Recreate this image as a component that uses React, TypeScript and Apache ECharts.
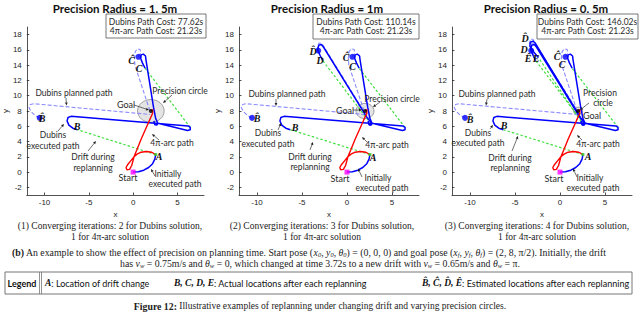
import React, { useEffect, useRef } from "react";
import * as echarts from "echarts";

// ---------- data ----------
const xTicks = [-10, -5, 0, 5];
const yTicks = [-2, 0, 2, 4, 6, 8, 10, 12, 14, 16, 18];
const panelTitles = ["Precision Radius = 1. 5m", "Precision Radius = 1m", "Precision Radius = 0. 5m"];
const precisionRadii = [1.5, 1, 0.5];
const dubinsCosts = ["77.62s", "110.14s", "146.02s"];
const arcCosts = ["21.23s", "21.23s", "21.23s"];
const dubinsIterations = [2, 3, 4];

const startPose = [[0, 0]];
const goalPose = [[2, 8]];
const driftChange = [[2.55, 2.3]];

const initialPath = [[0, 0], [0.6, 0.05], [1.2, 0.25], [1.75, 0.6], [2.2, 1.1], [2.45, 1.7], [2.55, 2.3]];
const arcPath = [[2.55, 2.3], [2.1, 2.6], [1.5, 2.7], [0.9, 2.6], [0.45, 2.35], [0.1, 2.0], [-0.25, 1.5], [-0.6, 1.0], [-0.8, 0.6], [-0.7, 0.3], [-0.4, 0.35], [-0.15, 0.9], [0.1, 2.0], [0.45, 3.0], [0.9, 4.3], [1.4, 5.6], [1.85, 6.8], [2.2, 7.7], [2.2, 8.2], [2.0, 8.0]];

const driftAB = [[2.55, 2.3], [-6.3, 5.55]];
const planB = [[-10.55, 7.1], [-11.05, 7.4], [-11.5, 7.9], [-11.75, 8.45], [-11.6, 8.85], [-11.2, 8.95], [1.9, 7.55]];
const execB = [[-6.3, 5.55], [-6.8, 5.75], [-7.25, 6.15], [-7.45, 6.7], [-7.35, 7.15], [-7.0, 7.3], [6.2, 6.05], [6.45, 5.85], [6.45, 5.55], [6.15, 5.45], [2.8, 6.4]];

const driftBC = [[6.45, 5.85], [1.35, 13.6]];
const planC = [[0.6, 15.1], [0.85, 15.55], [0.8, 16.05], [0.5, 16.15], [0.25, 15.8], [0.15, 15.0], [0.2, 14.0], [1.9, 8.0]];
const execC = [[1.35, 13.6], [1.05, 14.3], [0.85, 14.9], [0.9, 15.35], [1.15, 15.45], [1.4, 15.2], [1.45, 14.7], [2.3, 8.5], [2.55, 7.0], [2.75, 6.5], [2.7, 6.15], [2.45, 6.2], [2.35, 6.7]];

const driftCD = [[2.35, 6.8], [-2.7, 14.6]];
const planD = [[-3.2, 15.9], [-3.3, 16.5], [-3.1, 16.9], [-2.8, 16.85], [-2.6, 16.5], [1.9, 7.9]];
const execD = [[-2.7, 14.6], [-3.0, 15.3], [-3.25, 16.0], [-3.15, 16.6], [-2.85, 16.7], [-2.6, 16.35], [2.2, 7.2], [2.6, 6.6], [2.75, 6.3], [2.55, 6.15], [2.35, 6.5]];

const driftDE = [[2.35, 6.6], [-2.4, 15.0]];
const planE = [[-2.9, 15.3], [-3.4, 16.6], [-3.3, 17.4], [-3.0, 17.4], [-2.85, 17.0], [1.95, 8.0]];
const execE = [[-2.4, 15.0], [-2.9, 15.7], [-3.35, 16.5], [-3.3, 17.0], [-3.0, 17.15], [-2.75, 16.9], [2.3, 7.1], [2.65, 6.6], [2.7, 6.3], [2.5, 6.2], [2.35, 6.6]];

const estB = [-10.55, 7.1];
const estC = [0.6, 15.1];
const estD = [-3.2, 15.9];

const panelPlans = [[planB, planC], [planB, planC, planD], [planB, planC, planD, planE]];
const panelDrifts = [[driftAB, driftBC], [driftAB, driftBC, driftCD], [driftAB, driftBC, driftCD, driftDE]];
const panelExecs = [[execB, execC], [execB, execC, execD], [execB, execC, execD, execE]];
const panelEstimates = [[estB, estC], [estB, estC, estD], [estB, estC, estD]];

// ---------- layout ----------
const gridLefts = [24, 239, 452];
const gridTop = 27;
const gridW = 180;
const gridH = 168;

const TXT = "#2b2b2b";

function txt(text: string, x: number, y: number, o: any = {}) {
  return {
    type: "text",
    x,
    y,
    silent: true,
    z: 100,
    style: {
      text,
      fill: o.fill || TXT,
      fontSize: o.size || 8.5,
      fontFamily: o.family || "Lato",
      fontWeight: o.weight || "normal",
      fontStyle: o.fstyle || "normal",
      align: o.align || "center",
      textAlign: o.align || "center",
      verticalAlign: "middle",
      textVerticalAlign: "middle",
      rich: o.rich,
    },
  };
}

function letter(text: string, x: number, y: number) {
  return txt(text, x, y, { family: "Liberation Serif", weight: "bold", fstyle: "italic", size: 10, fill: "#111" });
}

function arrow(x1: number, y1: number, x2: number, y2: number) {
  const dx = x2 - x1, dy = y2 - y1;
  const len = Math.hypot(dx, dy);
  const ux = dx / len, uy = dy / len;
  const hl = 3, hw = 1.4;
  const bx = x2 - ux * hl, by = y2 - uy * hl;
  return [
    { type: "line", silent: true, z: 100, shape: { x1, y1, x2: bx, y2: by }, style: { stroke: "#333", lineWidth: 0.7 } },
    { type: "polygon", silent: true, z: 100, shape: { points: [[x2, y2], [bx - uy * hw, by + ux * hw], [bx + uy * hw, by - ux * hw]] }, style: { fill: "#222" } },
  ];
}

const richCap = {
  i: { fontStyle: "italic", fontFamily: "Liberation Serif", fontSize: 9.8, fill: "#222" },
  s: { fontStyle: "italic", fontFamily: "Liberation Serif", fontSize: 6.5, fill: "#222", verticalAlign: "bottom", padding: [4, 0, 0, 0] },
  b: { fontWeight: "bold", fontFamily: "Liberation Serif", fontSize: 9.8, fill: "#222" },
};
const richLegend = {
  l: { fontWeight: "bold", fontStyle: "italic", fontFamily: "Liberation Serif", fontSize: 9.5, fill: "#111" },
};

export default function App() {
  const ref = useRef<HTMLDivElement>(null);
  useEffect(() => {
    if (!ref.current) return;
    const chart = echarts.init(ref.current, null, { renderer: "svg" });

    const grids = gridLefts.map((l) => ({ left: l, top: gridTop, width: gridW, height: gridH }));
    const axisColor = "#262626";
    const xAxes = gridLefts.map((_, i) => ({
      type: "value",
      gridIndex: i,
      min: -12,
      max: 8,
      name: "x",
      nameLocation: "middle",
      nameGap: 13,
      nameTextStyle: { fontSize: 8, color: axisColor, fontFamily: "Liberation Sans" },
      axisLine: { show: true, onZero: false, lineStyle: { color: axisColor, width: 0.8 } },
      axisTick: { show: true, inside: true, length: 2.5, customValues: xTicks, lineStyle: { color: axisColor, width: 0.8 } },
      axisLabel: { customValues: xTicks, fontSize: 8, color: axisColor, margin: 3, fontFamily: "Liberation Sans" },
      splitLine: { show: false },
    }));
    const yAxes = gridLefts.map((_, i) => ({
      type: "value",
      gridIndex: i,
      min: -3,
      max: 19,
      name: "y",
      nameLocation: "middle",
      nameRotate: 90,
      nameGap: 15,
      nameTextStyle: { fontSize: 8, color: axisColor, fontFamily: "Liberation Sans" },
      axisLine: { show: true, onZero: false, lineStyle: { color: axisColor, width: 0.8 } },
      axisTick: { show: true, inside: true, length: 2.5, customValues: yTicks, lineStyle: { color: axisColor, width: 0.8 } },
      axisLabel: { customValues: yTicks, fontSize: 8, color: axisColor, margin: 5, fontFamily: "Liberation Sans" },
      splitLine: { show: false },
    }));

    const series: any[] = [];
    const lineS = (i: number, data: number[][], color: string, width: number, type: any, z: number) => ({
      type: "line",
      xAxisIndex: i,
      yAxisIndex: i,
      data,
      showSymbol: false,
      symbol: "none",
      silent: true,
      z,
      lineStyle: { color, width, type },
    });

    gridLefts.forEach((_, i) => {
      series.push({
        type: "custom",
        xAxisIndex: i,
        yAxisIndex: i,
        silent: true,
        z: 1,
        data: [[goalPose[0][0], goalPose[0][1], precisionRadii[i]]],
        encode: { x: 0, y: 1 },
        renderItem: (params: any, api: any) => {
          const c = api.coord([api.value(0), api.value(1)]);
          const r = api.value(2);
          const rx = api.size([r, 0])[0];
          const ry = api.size([0, r])[1];
          return {
            type: "ellipse",
            shape: { cx: c[0], cy: c[1], rx, ry },
            style: { fill: "#e4e4e4", stroke: "#8a8a8a", lineWidth: 0.8 },
          };
        },
      });
      panelPlans[i].forEach((p) => series.push(lineS(i, p, "#8a8aff", 1.1, [4, 2], 2)));
      panelDrifts[i].forEach((p) => series.push(lineS(i, p, "#3ee03e", 1.2, [2.5, 2], 3)));
      panelExecs[i].forEach((p) => series.push(lineS(i, p, "#0000ff", 1.5, "solid", 4)));
      series.push(lineS(i, initialPath, "#0000ff", 1.5, "solid", 4));
      series.push(lineS(i, arcPath, "#ff0000", 1.4, "solid", 5));
      series.push({ type: "scatter", xAxisIndex: i, yAxisIndex: i, data: panelEstimates[i], symbol: "circle", symbolSize: 6, itemStyle: { color: "#0000ff" }, silent: true, z: 6 });
      series.push({ type: "scatter", xAxisIndex: i, yAxisIndex: i, data: startPose, symbol: "rect", symbolSize: 5, itemStyle: { color: "#ff00ff" }, silent: true, z: 6 });
      series.push({ type: "scatter", xAxisIndex: i, yAxisIndex: i, data: goalPose, symbol: "circle", symbolSize: 4, itemStyle: { color: "#000" }, silent: true, z: 7 });
      series.push({ type: "scatter", xAxisIndex: i, yAxisIndex: i, data: driftChange, symbol: "rect", symbolSize: 3, itemStyle: { color: "#2ecc2e" }, silent: true, z: 6 });
    });

    const g: any[] = [];
    // titles
    const titleX = [115, 327, 546];
    panelTitles.forEach((t, i) => g.push(txt(t, titleX[i], 8, { size: 11.5, weight: "bold", fill: "#111" })));
    // cost boxes
    const boxes = [[106, 14, 100, 24], [313, 14, 106, 25], [537, 14, 101, 25]];
    boxes.forEach((b, i) => {
      g.push({ type: "rect", silent: true, z: 90, shape: { x: b[0], y: b[1], width: b[2], height: b[3] }, style: { fill: "#fff", stroke: "#555", lineWidth: 0.8 } });
      const cx = b[0] + b[2] / 2;
      g.push(txt("Dubins Path Cost: " + dubinsCosts[i], cx, b[1] + 8, { size: 8.5 }));
      g.push(txt("4\u03c0-arc Path Cost: " + arcCosts[i], cx, b[1] + 17, { size: 8.5 }));
    });

    // panel 1 annotations
    g.push(txt("Dubins planned path", 74, 93));
    g.push(...arrow(66, 98, 66.5, 105.5));
    g.push(txt("Dubins", 53, 135), txt("executed path", 53, 146));
    g.push(...arrow(58, 131, 64, 124));
    g.push(txt("Drift during", 93, 157), txt("replanning", 93, 168));
    g.push(...arrow(88, 151, 96, 141));
    g.push(txt("Goal", 126, 104, { size: 9 }));
    g.push(...arrow(134, 105, 149, 110));
    g.push(txt("Precision circle", 180, 91));
    g.push(...arrow(172, 95, 163, 103));
    g.push(txt("4\u03c0-arc path", 172, 143));
    g.push(...arrow(159, 140, 152, 134));
    g.push(txt("Start", 128, 177, { size: 9 }));
    g.push(txt("Initially", 168, 174), txt("executed path", 175, 184));
    g.push(...arrow(155, 176, 151, 169));
    g.push(letter("B\u0302", 42, 118), letter("B", 77, 126), letter("A", 159, 156), letter("C", 139, 68), letter("C\u0302", 131.5, 60.5));

    // panel 2 annotations
    g.push(txt("Dubins planned path", 287, 94));
    g.push(...arrow(276, 99, 276, 106));
    g.push(txt("Dubins", 268, 133), txt("executed path", 268, 144));
    g.push(...arrow(278, 130, 281, 123));
    g.push(txt("Drift during", 310, 157), txt("replanning", 310, 167));
    g.push(...arrow(310, 150, 313, 142));
    g.push(txt("Goal", 345, 110, { size: 9 }));
    g.push(...arrow(353, 110, 362, 110));
    g.push(txt("Precision circle", 392, 99));
    g.push(...arrow(380, 102, 373, 107));
    g.push(txt("4\u03c0-arc path", 387, 145));
    g.push(...arrow(367, 142, 362, 137));
    g.push(txt("Start", 340, 178, { size: 9 }));
    g.push(txt("Initially", 378, 178), txt("executed path", 382, 188));
    g.push(...arrow(362, 177, 358, 168.5));
    g.push(letter("B\u0302", 257, 118), letter("B", 295, 127), letter("A", 373, 157), letter("C", 352.5, 66), letter("C\u0302", 346, 57), letter("D", 320, 60), letter("D\u0302", 313, 51.5));

    // panel 3 annotations
    g.push(txt("Dubins planned path", 497, 94));
    g.push(...arrow(487, 99, 486, 105.5));
    g.push(txt("Dubins", 478, 133), txt("executed path", 478, 143));
    g.push(...arrow(490, 129, 493, 125));
    g.push(txt("Drift during", 510, 158), txt("replanning", 510, 168));
    g.push(...arrow(512, 151, 518, 136));
    g.push(txt("Goal", 592, 115, { size: 9 }));
    g.push(txt("Precision", 600, 93), txt("circle", 603, 103));
    g.push(...arrow(589, 103, 580, 110));
    g.push(txt("4\u03c0-arc path", 598, 144));
    g.push(...arrow(582, 140, 577, 135));
    g.push(txt("Start", 554, 178, { size: 9 }));
    g.push(txt("Initially", 590, 178), txt("executed path", 593, 188));
    g.push(...arrow(577, 177, 573, 168.5));
    g.push(letter("B\u0302", 470, 119), letter("B", 504, 125), letter("A", 588, 156), letter("C", 562, 64), letter("C\u0302", 557, 56),
      letter("D\u0302", 525, 38.5), letter("D", 524, 49.5), letter("E\u0302", 528, 58), letter("E", 536, 58));

    // sub captions
    const capX = [110, 322, 537];
    dubinsIterations.forEach((n, i) => {
      g.push(txt("(" + (i + 1) + ") Converging iterations: " + n + " for Dubins solution,", capX[i], 226, { family: "Liberation Serif", size: 9.5, fill: "#222" }));
      g.push(txt("1 for 4\u03c0-arc solution", capX[i], 237, { family: "Liberation Serif", size: 9.5, fill: "#222" }));
    });

    // (b) caption
    g.push(txt(
      "{b|(b)} An example to show the effect of precision on planning time. Start pose ({i|x}{s|0}, {i|y}{s|0}, {i|\u03b8}{s|0}) = (0, 0, 0) and goal pose ({i|x}{s|f}, {i|y}{s|f}, {i|\u03b8}{s|f}) = (2, 8, \u03c0/2). Initially, the drift",
      12, 252, { family: "Liberation Serif", size: 9.8, fill: "#222", align: "left", rich: richCap }
    ));
    g.push(txt(
      "has {i|v}{s|w} = 0.75m/s and {i|\u03b8}{s|w} = 0, which changed at time 3.72s to a new drift with {i|v}{s|w} = 0.65m/s and {i|\u03b8}{s|w} = \u03c0.",
      320, 263, { family: "Liberation Serif", size: 9.8, fill: "#222", rich: richCap }
    ));

    // legend box
    g.push({ type: "rect", silent: true, z: 90, shape: { x: 5, y: 272, width: 627, height: 22 }, style: { fill: "#fff", stroke: "#777", lineWidth: 1 } });
    g.push({ type: "line", silent: true, z: 91, shape: { x1: 39.5, y1: 272, x2: 39.5, y2: 294 }, style: { stroke: "#777", lineWidth: 0.8 } });
    g.push({ type: "line", silent: true, z: 91, shape: { x1: 41.5, y1: 272, x2: 41.5, y2: 294 }, style: { stroke: "#777", lineWidth: 0.8 } });
    g.push(txt("Legend", 22, 283, { weight: "bold", size: 9, fill: "#111" }));
    g.push(txt("{l|A}: Location of drift change", 45, 283, { align: "left", size: 9, fill: "#111", rich: richLegend }));
    g.push(txt("{l|B, C, D, E}: Actual locations after each replanning", 174, 283, { align: "left", size: 9, fill: "#111", rich: richLegend }));
    g.push(txt("{l|B\u0302, C\u0302, D\u0302, E\u0302}: Estimated locations after each replanning", 422, 283, { align: "left", size: 9, fill: "#111", rich: richLegend }));

    // figure caption
    g.push(txt("{b|Figure 12:} Illustrative examples of replanning under changing drift and varying precision circles.", 320, 306, { family: "Liberation Serif", size: 9.5, fill: "#222", rich: richCap }));

    chart.setOption({
      animation: false,
      backgroundColor: "#fff",
      grid: grids,
      xAxis: xAxes,
      yAxis: yAxes,
      series,
      graphic: { elements: g },
    });
    return () => chart.dispose();
  }, []);
  return <div ref={ref} style={{ position: "fixed", left: 0, top: 0, width: 640, height: 312, background: "#fff" }} />;
}
